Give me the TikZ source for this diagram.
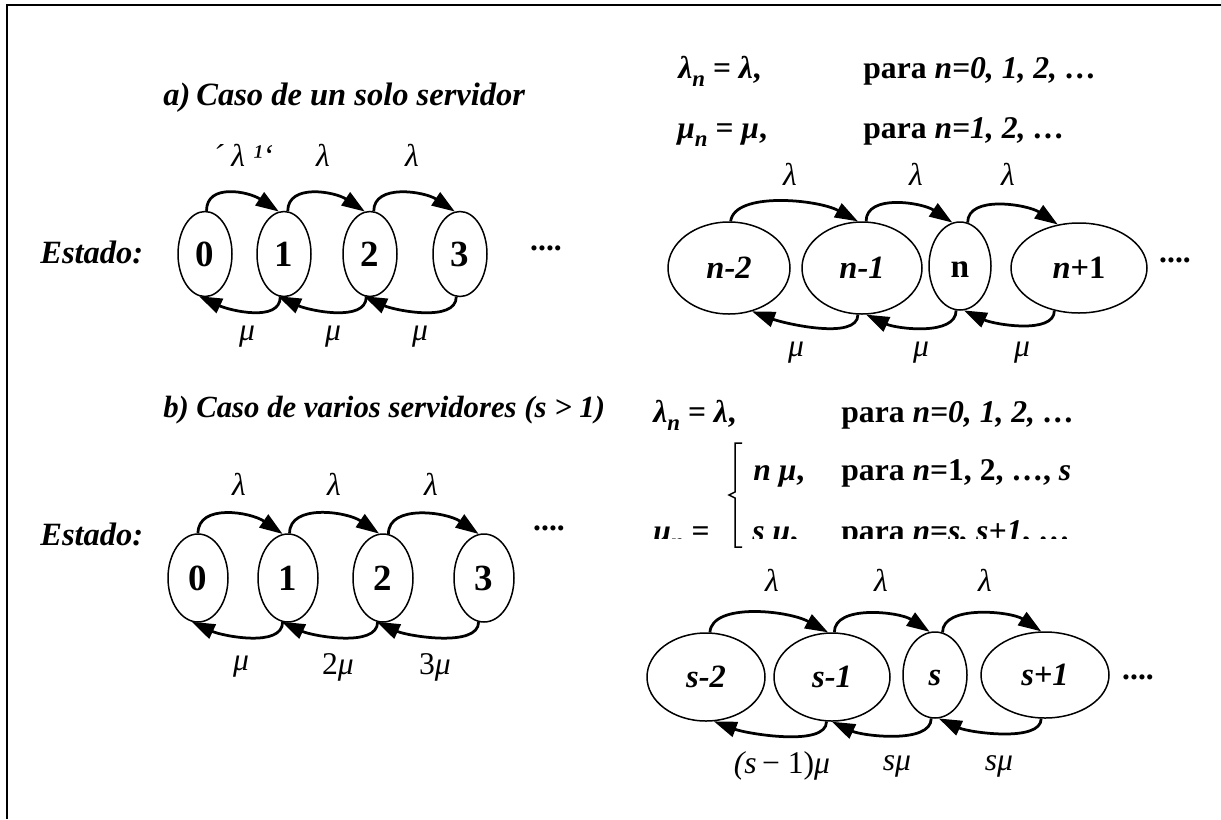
\documentclass[tikz,border=0pt]{standalone}
\usepackage{fontspec}
\setmainfont{Liberation Serif}
\usetikzlibrary{arrows.meta,shapes.geometric}
\newcommand{\idx}[1]{\raisebox{-0.28em}{\fontsize{13}{13}\selectfont #1}}
\tikzset{
  state/.style={draw, ellipse, line width=0.3mm, inner sep=0pt, font=\fontsize{21}{21}\selectfont\bfseries},
  bigstate/.style={state, font=\fontsize{18.5}{18}\selectfont\bfseries\itshape},
  rate/.style={inner sep=1pt, font=\fontsize{18}{18}\selectfont\itshape},
  hop/.style={line width=0.55mm, -{Triangle[length=4.6mm,width=3.1mm]}},
  bigtext/.style={inner sep=0pt, font=\fontsize{18.5}{20}\selectfont\bfseries\itshape},
  eqtext/.style={inner sep=0pt, anchor=base west, font=\fontsize{18}{20}\selectfont\bfseries},
  dots/.style={font=\fontsize{18}{18}\selectfont\bfseries}
}
\begin{document}
\begin{tikzpicture}[x=0.2mm,y=-0.2mm]
    \useasboundingbox (0,0) rectangle (1221,819);
    % frame
    \draw[line width=0.5mm] (7,819) -- (7,5) -- (1221,5);

    % a) one server
    \node[bigtext, anchor=base west] (tita) at (163,105) {\makebox[6.6mm][l]{a)}Caso de un solo servidor};
    \node[bigtext, anchor=base west] (esta) at (40,263) {Estado:};
    \node[state, minimum width=10.8mm, minimum height=17mm] (a0) at (205,254) {0};
    \node[state, minimum width=10.8mm, minimum height=17mm] (a1) at (284,254) {1};
    \node[state, minimum width=10.8mm, minimum height=17mm] (a2) at (370,254) {2};
    \node[state, minimum width=10.8mm, minimum height=17mm] (a3) at (460,254) {3};
    \node[dots] (dota) at (546,248) {....};
    \draw[hop] (a0.88) .. controls +(0,-28) and +(-30,-20) .. (a1.97);
    \draw[hop] (a1.85) .. controls +(0,-28) and +(-30,-20) .. (a2.97);
    \draw[hop] (a2.85) .. controls +(0,-28) and +(-30,-20) .. (a3.97);
    \draw[hop] (a1.265) .. controls +(0,26) and +(30,14) .. (a0.262);
    \draw[hop] (a2.265) .. controls +(0,26) and +(30,14) .. (a1.262);
    \draw[hop] (a3.265) .. controls +(0,26) and +(30,14) .. (a2.262);
    \node[rate] (la1) at (243,155) {´ λ ¹\symbol{96}};
    \node[rate] (la2) at (323,155) {λ};
    \node[rate] (la3) at (412,155) {λ};
    \node[rate] (ma1) at (247,337) {μ};
    \node[rate] (ma2) at (333,337) {μ};
    \node[rate] (ma3) at (420,337) {μ};

    % rates, one server
    \node[eqtext] (lama) at (678,78) {\textit{λ\idx{n}} = \textit{λ},};
    \node[eqtext] (paraa) at (863,78) {para \textit{n=0, 1, 2, …}};
    \node[eqtext] (mua) at (677,138) {\textit{μ\idx{n}} = \textit{μ},};
    \node[eqtext] (parab) at (863,138) {para \textit{n=1, 2, …}};

    % general state n
    \node[bigstate, minimum width=24.4mm, minimum height=18.4mm] (n2) at (729,268) {n-2};
    \node[bigstate, minimum width=24mm, minimum height=18.4mm] (n1) at (862,268) {n-1};
    \node[state, font=\fontsize{19}{19}\selectfont\bfseries, minimum width=12.4mm, minimum height=17.6mm] (nn) at (960,266) {\vphantom{1}n};
    \node[bigstate, minimum width=27.2mm, minimum height=18mm] (np) at (1079,268) {n\upshape+1};
    \node[dots] (dotn) at (1175,260) {....};
    \draw[hop] (n2.88) .. controls +(4,-30) and +(-40,-22) .. (n1.95);
    \draw[hop] (n1.85) .. controls +(0,-28) and +(-30,-20) .. (nn.100);
    \draw[hop] (nn.80) .. controls +(0,-28) and +(-30,-20) .. (np.116);
    \draw[hop] (n1.265) .. controls +(0,26) and +(32,12) .. (n2.298);
    \draw[hop] (nn.265) .. controls +(0,26) and +(30,14) .. (n1.275);
    \draw[hop] (np.240) .. controls +(0,24) and +(30,14) .. (nn.275);
    \node[rate] (ln1) at (790,174) {λ};
    \node[rate] (ln2) at (916,174) {λ};
    \node[rate] (ln3) at (1008,174) {λ};
    \node[rate] (mn1) at (796,353) {μ};
    \node[rate] (mn2) at (921,353) {μ};
    \node[rate] (mn3) at (1022,353) {μ};

    % b) several servers
    \node[bigtext, anchor=base west, font=\fontsize{17.5}{20}\selectfont\bfseries\itshape] (titb) at (163,417) {\makebox[6.6mm][l]{b)}Caso de varios servidores (s > 1)};
    \node[bigtext, anchor=base west] (estb) at (40,545) {Estado:};
    \node[state, minimum width=12mm, minimum height=17.6mm] (b0) at (198,578) {0};
    \node[state, minimum width=12mm, minimum height=17.6mm] (b1) at (288,578) {1};
    \node[state, minimum width=12mm, minimum height=17.6mm] (b2) at (383,578) {2};
    \node[state, minimum width=12mm, minimum height=17.6mm] (b3) at (484,578) {3};
    \node[dots] (dotb) at (549,528) {....};
    \draw[hop] (b0.90) .. controls +(0,-30) and +(-32,-22) .. (b1.97);
    \draw[hop] (b1.88) .. controls +(0,-30) and +(-32,-22) .. (b2.95);
    \draw[hop] (b2.83) .. controls +(0,-30) and +(-32,-22) .. (b3.97);
    \draw[hop] (b1.263) .. controls +(0,26) and +(30,14) .. (b0.262);
    \draw[hop] (b2.263) .. controls +(0,26) and +(30,14) .. (b1.262);
    \draw[hop] (b3.263) .. controls +(0,26) and +(30,14) .. (b2.262);
    \node[rate] (lb1) at (239,484) {λ};
    \node[rate] (lb2) at (334,484) {λ};
    \node[rate] (lb3) at (431,484) {λ};
    \node[rate] (mb1) at (241,667) {μ};
    \node[rate] (mb2) at (338,667) {\upshape 2\itshape μ};
    \node[rate] (mb3) at (435,667) {\upshape 3\itshape μ};

    % rates, several servers
    \node[eqtext] (lamb) at (653,422) {\textit{λ\idx{n}} = \textit{λ},};
    \node[eqtext] (parac) at (841,422) {para \textit{n=0, 1, 2, …}};
    \node[eqtext] (nmu) at (753,480) {\textit{n μ},};
    \node[eqtext] (parad) at (841,480) {para \textit{n}=1, 2, …, \textit{s}};
    \begin{scope}
        \clip (600,500) rectangle (1221,538);
        \node[eqtext] (mub) at (653,541) {\textit{μ\idx{n}} =};
        \node[eqtext] (smu) at (752,541) {\textit{s μ},};
        \node[eqtext] (parae) at (841,541) {para \textit{n}=\textit{s, s+1}, …};
    \end{scope}
    \draw[line width=0.3mm] (742,443) -- (735,443) -- (735,492) -- (729,495) -- (735,498) -- (735,547) -- (742,547);

    % general state s
    \node[bigstate, minimum width=23.6mm, minimum height=17.6mm] (s2) at (706,677) {s-2};
    \node[bigstate, minimum width=23.2mm, minimum height=17.6mm] (s1) at (832,677) {s-1};
    \node[bigstate, minimum width=12.8mm, minimum height=17.2mm] (ss) at (935,675) {\vphantom{1}s};
    \node[bigstate, minimum width=25.6mm, minimum height=17.2mm] (sp) at (1045,675) {s+1};
    \node[dots] (dots) at (1138,677) {....};
    \draw[hop] (s2.85) .. controls +(2,-30) and +(-40,-22) .. (s1.95);
    \draw[hop] (s1.87) .. controls +(0,-28) and +(-30,-20) .. (ss.97);
    \draw[hop] (ss.80) .. controls +(0,-28) and +(-30,-20) .. (sp.95);
    \draw[hop] (s1.263) .. controls +(0,26) and +(32,12) .. (s2.280);
    \draw[hop] (ss.265) .. controls +(0,26) and +(30,14) .. (s1.270);
    \draw[hop] (sp.265) .. controls +(0,24) and +(30,14) .. (ss.275);
    \node[rate] (ls1) at (772,580) {λ};
    \node[rate] (ls2) at (881,580) {λ};
    \node[rate] (ls3) at (985,580) {λ};
    \node[rate] (ms1) at (782,766) {(s\,\upshape − 1)\itshape μ};
    \node[rate] (ms2) at (897,766) {sμ};
    \node[rate] (ms3) at (999,766) {sμ};
\end{tikzpicture}
\end{document}
